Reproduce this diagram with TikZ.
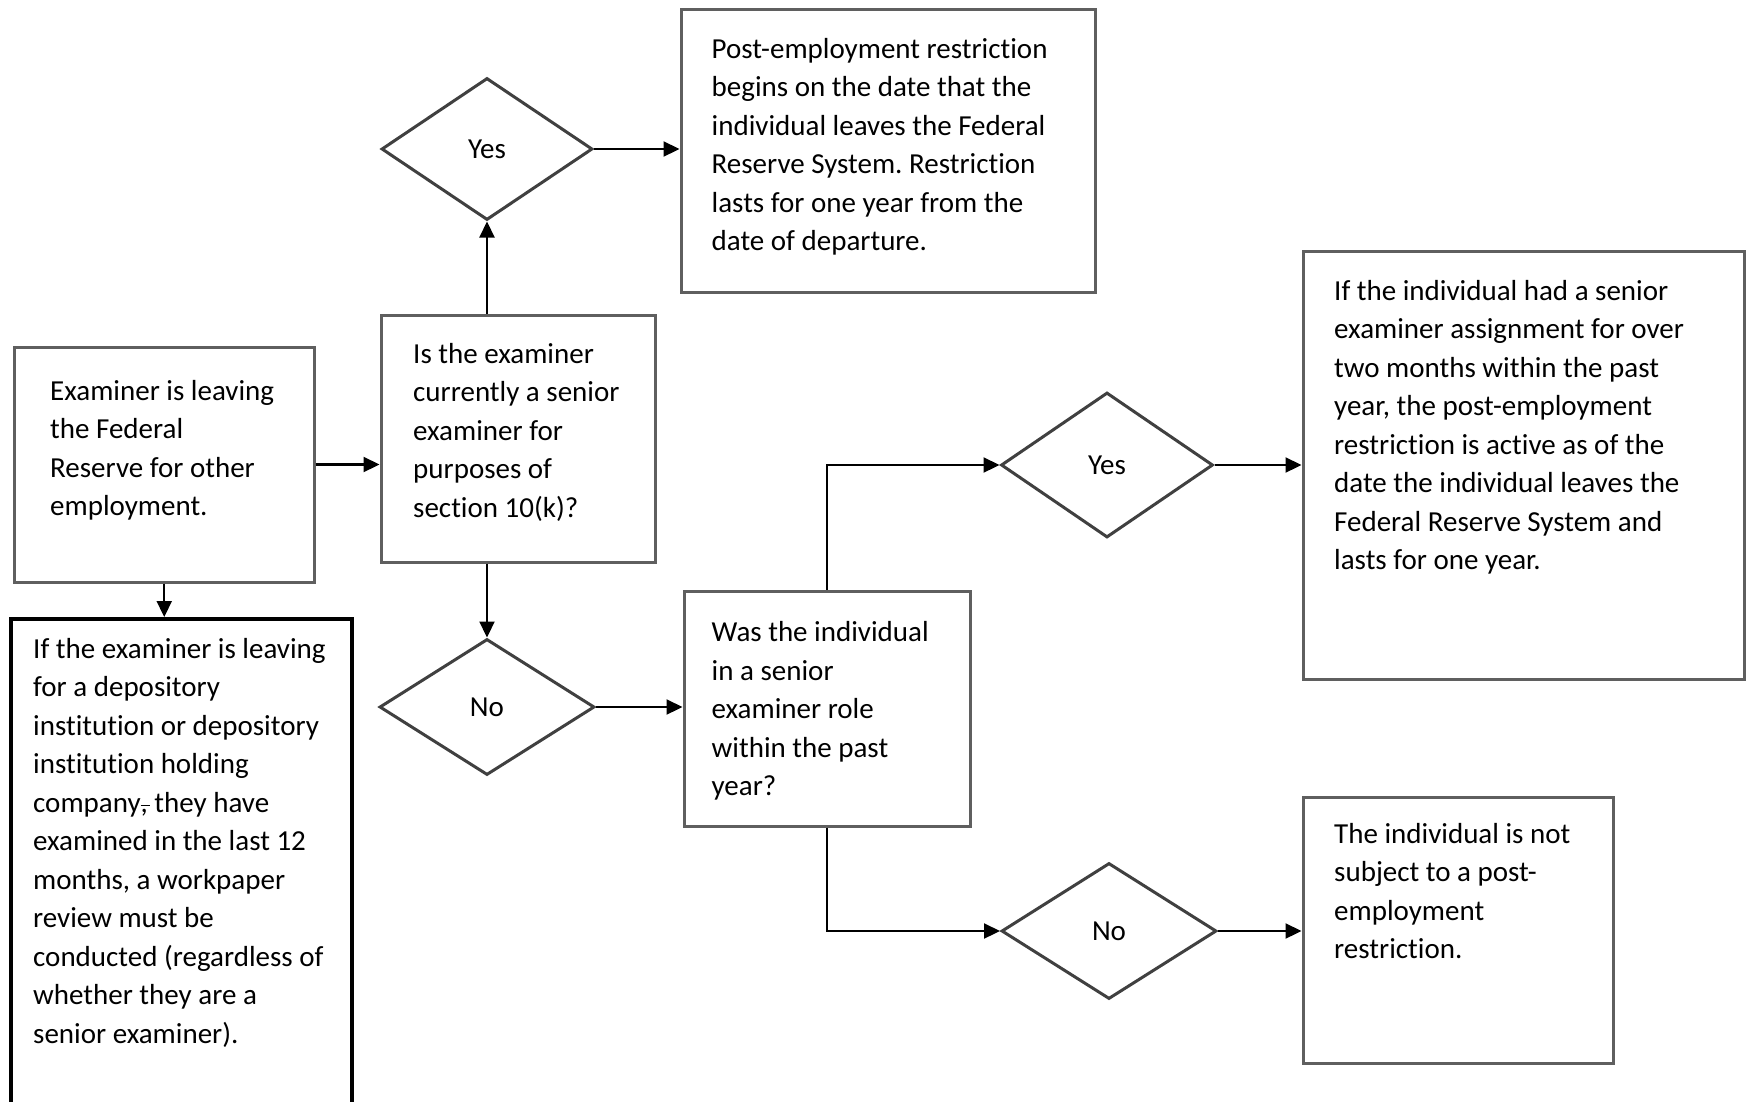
\documentclass[tikz,border=0pt]{standalone}
\usepackage{fontspec}
\setmainfont{Carlito}[Ligatures=CommonOff]
\usetikzlibrary{arrows.meta,shapes.geometric}
\definecolor{boxgray}{RGB}{95,95,95}
\definecolor{diagray}{RGB}{64,64,64}
\tikzset{
  box/.style={draw=boxgray, line width=3pt, inner sep=0pt},
  blackbox/.style={draw=black, line width=4pt, inner sep=0pt},
  dia/.style={diamond, draw=diagray, line width=3pt, inner sep=0pt, font=\fontsize{29}{35}\selectfont},
  txt/.style={anchor=north west, inner sep=0pt, align=left, font=\fontsize{29}{38.5}\selectfont},
  arr/.style={line width=2.2pt, -{Triangle[length=16pt,width=15pt]}},
}
\newcommand{\fl}{\rule{0pt}{25pt}}
\frenchspacing
\begin{document}
\begin{tikzpicture}[x=1pt,y=-1pt]
\useasboundingbox (0,0) rectangle (1746,1101);
% boxes
\node[box, minimum width=299.5pt, minimum height=235pt] (A) at (164.25,464.5) {};
\node[box, minimum width=274pt, minimum height=247pt] (Q1) at (518,438.5) {};
\node[box, minimum width=414pt, minimum height=283pt] (R1) at (888,150.5) {};
\node[box, minimum width=286pt, minimum height=235pt] (Q2) at (827,708.5) {};
\node[box, minimum width=441pt, minimum height=428pt] (R2) at (1523.5,465) {};
\node[box, minimum width=310pt, minimum height=266pt] (R3) at (1458,930) {};
\node[blackbox, minimum width=341pt, minimum height=490pt] (L) at (181.5,864) {};
% diamonds
\node[dia, minimum width=211pt, minimum height=142pt] (Y1) at (487,149) {Yes};
\node[dia, minimum width=215pt, minimum height=136pt] (N1) at (487,707) {No};
\node[dia, minimum width=212pt, minimum height=145pt] (Y2) at (1107,465) {Yes};
\node[dia, minimum width=215pt, minimum height=136pt] (N2) at (1109,931) {No};
% texts
\node[txt] (At) at (50,375) {\fl Examiner is leaving\\the Federal\\Reserve for other\\employment.};
\node[txt] (Q1t) at (413,338) {\fl Is the examiner\\currently a senior\\examiner for\\purposes of\\section 10(k)?};
\node[txt] (R1t) at (711.5,33) {\fl Post-employment restriction\\begins on the date that the\\individual leaves the Federal\\Reserve System. Restriction\\lasts for one year from the\\date of departure.};
\node[txt] (Q2t) at (711.5,616.5) {\fl Was the individual\\in a senior\\examiner role\\within the past\\year?};
\node[txt] (R2t) at (1334,275) {\fl If the individual had a senior\\examiner assignment for over\\two months within the past\\year, the post-employment\\restriction is active as of the\\date the individual leaves the\\Federal Reserve System and\\lasts for one year.};
\node[txt] (R3t) at (1334,818) {\fl The individual is not\\subject to a post-\\employment\\restriction.};
\node[txt] (Lt) at (33,633) {\fl If the examiner is leaving\\for a depository\\institution or depository\\institution holding\\company\rlap{\rule[0.2em]{0.32em}{1.5pt}}, they have\\examined in the last 12\\months, a workpaper\\review must be\\conducted (regardless of\\whether they are a\\senior examiner).};
% connectors
\draw[arr] (A.east) -- (Q1.west |- A.east);
\draw[arr] (A.south) -- (L.north -| A.south);
\draw[arr] (Q1.north -| Y1.south) -- (Y1.south);
\draw[arr] (Y1.east) -- (R1.west |- Y1.east);
\draw[arr] (Q1.south -| N1.north) -- (N1.north);
\draw[arr] (N1.east) -- (Q2.west |- N1.east);
\draw[arr] (Q2.north) |- (Y2.west);
\draw[arr] (Y2.east) -- (R2.west |- Y2.east);
\draw[arr] (Q2.south) |- (N2.west);
\draw[arr] (N2.east) -- (R3.west |- N2.east);
\end{tikzpicture}
\end{document}
